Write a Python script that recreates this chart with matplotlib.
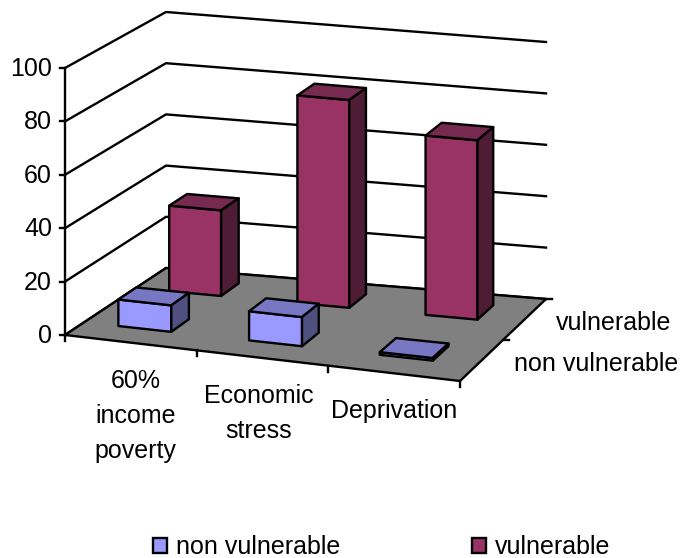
import numpy as np
import matplotlib
matplotlib.use("Agg")
import matplotlib.pyplot as plt
from matplotlib.patches import Polygon, Patch

categories = ["60%\nincome\npoverty", "Economic\nstress", "Deprivation"]
series_names = ["non vulnerable", "vulnerable"]
non_vulnerable = [10, 11, 1]
vulnerable = [33, 80, 69]
y_ticks = [0, 20, 40, 60, 80, 100]

FLOOR = np.array([(65, 335), (460, 381), (546, 299), (166, 268)], float)
TOP = np.array([(65, 68), (460, 114), (546, 42), (166, 12)], float)
COLORS = {
    "non vulnerable": ("#9999FF", "#7777C4", "#505080"),
    "vulnerable": ("#993366", "#762A50", "#4F1C35"),
}


def bilinear(q, u, v):
    return (q[0] * (1 - u) * (1 - v) + q[1] * u * (1 - v) + q[2] * u * v + q[3] * (1 - u) * v)


def proj(u, v, z):
    a = bilinear(FLOOR, u, v)
    b = bilinear(TOP, u, v)
    return tuple(a + (b - a) * z / 100.0)


fig = plt.figure(figsize=(6.8, 5.58), dpi=100)
ax = fig.add_axes([0, 0, 1, 1])
ax.set_xlim(0, 680)
ax.set_ylim(558, 0)
ax.axis("off")
plt.rcParams["font.family"] = ["Liberation Sans", "DejaVu Sans"]
FS = 18
LW = 1.7

# floor
ax.add_patch(Polygon([proj(0, 0, 0), proj(1, 0, 0), proj(1, 1, 0), proj(0, 1, 0)],
                     closed=True, fc="#808080", ec="black", lw=LW, zorder=1))

# gridlines on walls, ticks and value labels
for t in y_ticks:
    pts = [proj(0, 0, t), proj(0, 1, t), proj(1, 1, t)]
    ax.plot(*zip(*pts), color="black", lw=LW, zorder=0.5, solid_joinstyle="miter")
    x, y = proj(0, 0, t)
    ax.plot([x - 5, x], [y, y], color="black", lw=LW, zorder=2)
    ax.text(x - 13, y + 1, str(t), ha="right", va="center", fontsize=FS, color="black")
ax.plot(*zip(proj(0, 0, 0), proj(0, 0, 100)), color="black", lw=LW, zorder=2)

# category ticks and labels
for i in range(len(categories) + 1):
    x, y = proj(i / 3, 0, 0)
    ax.plot([x, x], [y, y + 6], color="black", lw=LW, zorder=2)
label_dx = [5, -4, 0]
for i, c in enumerate(categories):
    x, y = proj((i + 0.5) / 3, 0, 0)
    ax.text(x + label_dx[i], y + 26, c, ha="center", va="top", fontsize=FS,
            linespacing=1.6, color="black")

# series ticks and labels
for i in range(1, 3):
    x, y = proj(1, i / 2, 0)
    ax.plot([x, x + 6], [y, y], color="black", lw=LW, zorder=2)
for name, v, dx in zip(series_names, [0.25, 0.75], [32, 31]):
    x, y = proj(1, v, 0)
    ax.text(x + dx, y + 3.5, name, ha="left", va="center", fontsize=FS, color="black")


def draw_bar(u0, u1, v0, v1, h, cols, z):
    front = [proj(u0, v0, 0), proj(u1, v0, 0), proj(u1, v0, h), proj(u0, v0, h)]
    top = [proj(u0, v0, h), proj(u1, v0, h), proj(u1, v1, h), proj(u0, v1, h)]
    side = [proj(u1, v0, 0), proj(u1, v1, 0), proj(u1, v1, h), proj(u1, v0, h)]
    for poly, c in zip((front, top, side), cols):
        ax.add_patch(Polygon(poly, closed=True, fc=c, ec="black", lw=LW,
                             joinstyle="round", zorder=z))


W = 0.135
bands = [(0.19, 0.37), (0.70, 0.88)]
for s in (1, 0):
    vals = [non_vulnerable, vulnerable][s]
    for i, h in enumerate(vals):
        c = (i + 0.5) / 3 - 0.012
        draw_bar(c - W / 2, c + W / 2, *bands[s], h, COLORS[series_names[s]], 3 + (1 - s) * 5 + i)

handles = [Patch(fc=COLORS[n][0], ec="black", lw=LW) for n in series_names]
ax.legend(handles, series_names, loc="lower left", bbox_to_anchor=(153, 559), bbox_transform=ax.transData,
          ncol=2, frameon=False, fontsize=FS, handlelength=0.56, handleheight=0.56,
          handletextpad=0.36, columnspacing=5.25, borderpad=0, borderaxespad=0)

fig.savefig("out.png", dpi=100)
